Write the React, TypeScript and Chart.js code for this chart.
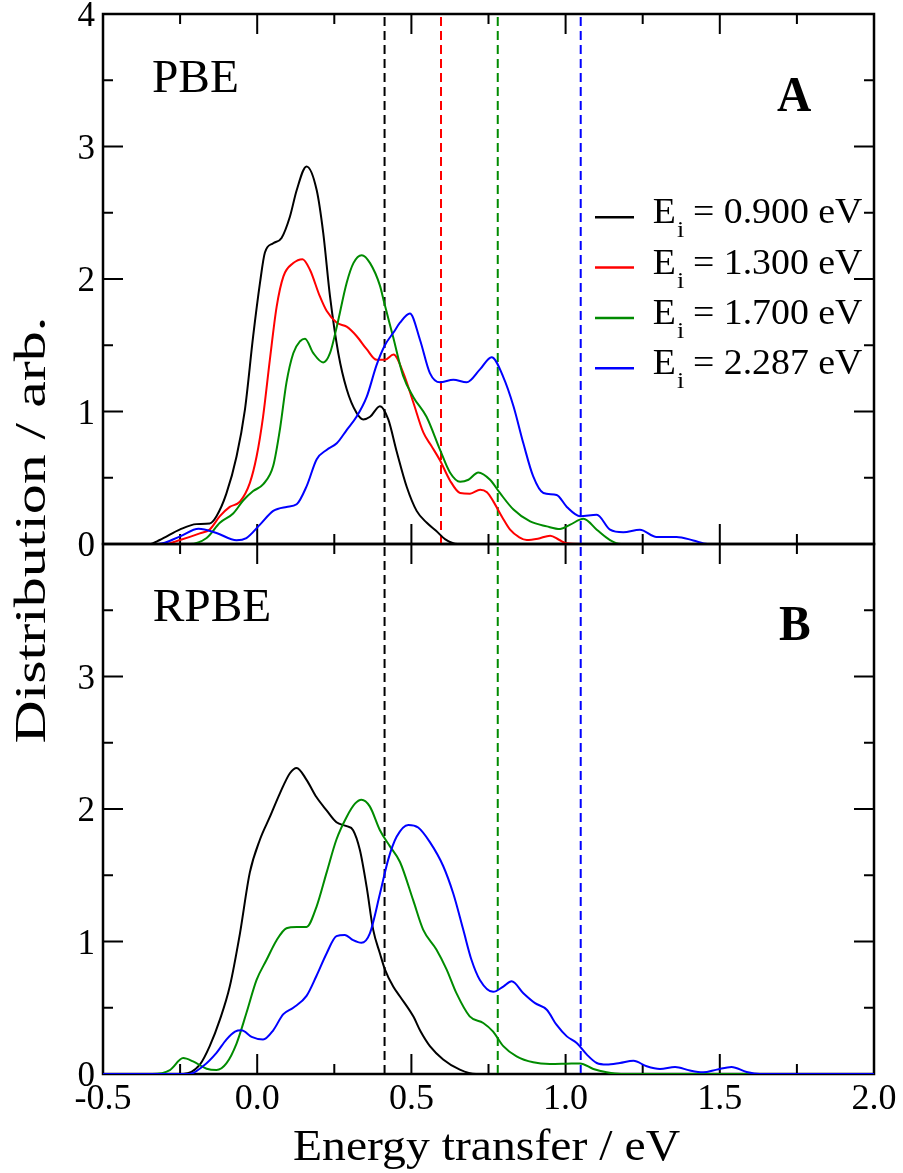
import React, { useEffect, useRef } from 'react';
import { Chart, registerables } from 'chart.js';
Chart.register(...registerables);

const FONT = '"Liberation Serif", "Times New Roman", serif';

// Legend / series metadata
const energies = ['0.900', '1.300', '1.700', '2.287'];
const colors = ['#000000', '#ff0000', '#008b00', '#0000ff'];

// Dashed vertical markers (eV)
const dropPBE = [0.413, 0.596, 0.78, 1.049];
const dropPBEColors = ['#000000', '#ff0000', '#008b00', '#0000ff'];
const dropRPBE = [0.413, 0.78, 1.049];
const dropRPBEColors = ['#000000', '#008b00', '#0000ff'];

// Axis ranges / ticks
const xMin = -0.5, xMax = 2.0, xMajor = 0.5, xMinor = 0.25;
const yMin = 0, yMax = 4, yMajor = 1, yMinor = 0.5;

// ---- Panel A: PBE ----
const pbe090X = [-0.5, -0.35, -0.316, -0.25, -0.197, -0.154, -0.132, -0.1, -0.067, -0.04, -0.013, 0.009, 0.025, 0.052, 0.079, 0.106, 0.128, 0.16, 0.193, 0.214, 0.236, 0.263, 0.29, 0.322, 0.344, 0.366, 0.398, 0.425, 0.452, 0.485, 0.517, 0.55, 0.58, 0.61, 0.65, 2.0];
const pbe090Y = [0, 0, 0.03, 0.11, 0.15, 0.155, 0.21, 0.38, 0.66, 1.01, 1.57, 1.97, 2.2, 2.27, 2.31, 2.47, 2.67, 2.85, 2.67, 2.35, 1.87, 1.44, 1.17, 0.99, 0.94, 0.96, 1.04, 0.94, 0.7, 0.43, 0.25, 0.16, 0.1, 0.035, 0, 0];

const pbe130X = [-0.5, -0.3, -0.25, -0.186, -0.154, -0.121, -0.089, -0.056, -0.024, -0.002, 0.019, 0.041, 0.063, 0.085, 0.117, 0.147, 0.171, 0.203, 0.225, 0.258, 0.29, 0.322, 0.355, 0.387, 0.414, 0.442, 0.474, 0.506, 0.539, 0.565, 0.593, 0.625, 0.658, 0.69, 0.723, 0.745, 0.766, 0.795, 0.82, 0.85, 0.874, 0.91, 0.95, 0.98, 1.004, 1.05, 2.0];
const pbe130Y = [0, 0, 0.03, 0.08, 0.11, 0.21, 0.28, 0.32, 0.46, 0.66, 0.96, 1.39, 1.79, 2.02, 2.12, 2.15, 2.07, 1.87, 1.76, 1.67, 1.64, 1.57, 1.47, 1.39, 1.39, 1.43, 1.29, 1.07, 0.84, 0.74, 0.63, 0.48, 0.385, 0.38, 0.41, 0.39, 0.32, 0.2, 0.108, 0.05, 0.03, 0.04, 0.063, 0.03, 0.005, 0, 0];

const pbe170X = [-0.5, -0.22, -0.164, -0.121, -0.078, -0.045, -0.013, 0.019, 0.052, 0.074, 0.095, 0.117, 0.139, 0.155, 0.182, 0.214, 0.236, 0.258, 0.29, 0.312, 0.339, 0.366, 0.398, 0.412, 0.441, 0.473, 0.506, 0.549, 0.593, 0.625, 0.658, 0.685, 0.717, 0.755, 0.787, 0.831, 0.885, 0.939, 0.982, 1.015, 1.058, 1.101, 1.144, 1.18, 2.0];
const pbe170Y = [0, 0, 0.045, 0.16, 0.23, 0.33, 0.4, 0.45, 0.59, 0.87, 1.22, 1.44, 1.53, 1.55, 1.44, 1.37, 1.44, 1.64, 1.97, 2.12, 2.18, 2.12, 1.95, 1.82, 1.56, 1.27, 1.11, 0.96, 0.71, 0.54, 0.47, 0.485, 0.54, 0.485, 0.385, 0.26, 0.17, 0.133, 0.113, 0.146, 0.19, 0.108, 0.03, 0, 0];

const pbe229X = [-0.5, -0.32, -0.25, -0.19, -0.132, -0.067, -0.035, 0.009, 0.052, 0.095, 0.128, 0.16, 0.193, 0.225, 0.258, 0.29, 0.322, 0.355, 0.387, 0.414, 0.443, 0.463, 0.495, 0.528, 0.56, 0.593, 0.636, 0.679, 0.723, 0.76, 0.798, 0.831, 0.863, 0.895, 0.928, 0.971, 1.004, 1.047, 1.101, 1.144, 1.187, 1.241, 1.295, 1.36, 1.414, 1.46, 2.0];
const pbe229Y = [0, 0, 0.058, 0.115, 0.083, 0.028, 0.045, 0.146, 0.25, 0.28, 0.3, 0.435, 0.64, 0.71, 0.76, 0.86, 0.96, 1.11, 1.35, 1.5, 1.6, 1.67, 1.74, 1.54, 1.29, 1.22, 1.24, 1.22, 1.32, 1.41, 1.26, 1.04, 0.76, 0.51, 0.385, 0.37, 0.28, 0.21, 0.22, 0.108, 0.088, 0.108, 0.053, 0.053, 0.027, 0, 0];

// ---- Panel B: RPBE ----
const rpbe090X = [-0.5, -0.24, -0.186, -0.154, -0.121, -0.089, -0.056, -0.024, 0.009, 0.041, 0.074, 0.106, 0.128, 0.16, 0.192, 0.225, 0.257, 0.29, 0.311, 0.333, 0.355, 0.376, 0.398, 0.414, 0.441, 0.463, 0.506, 0.53, 0.56, 0.603, 0.657, 0.71, 2.0];
const rpbe090Y = [0, 0, 0.07, 0.21, 0.41, 0.66, 1.06, 1.52, 1.77, 1.94, 2.12, 2.27, 2.31, 2.22, 2.09, 1.99, 1.9, 1.87, 1.84, 1.69, 1.41, 1.09, 0.91, 0.79, 0.66, 0.585, 0.435, 0.32, 0.21, 0.11, 0.033, 0, 0];

const rpbe170X = [-0.5, -0.34, -0.283, -0.24, -0.208, -0.164, -0.132, -0.1, -0.067, -0.035, -0.002, 0.03, 0.063, 0.095, 0.128, 0.16, 0.192, 0.225, 0.257, 0.29, 0.317, 0.338, 0.365, 0.398, 0.43, 0.463, 0.506, 0.538, 0.581, 0.614, 0.646, 0.689, 0.733, 0.765, 0.798, 0.841, 0.895, 0.949, 1.003, 1.047, 1.09, 1.133, 1.18, 2.0];
const rpbe170Y = [0, 0, 0.03, 0.12, 0.095, 0.04, 0.03, 0.08, 0.23, 0.46, 0.71, 0.86, 1.01, 1.1, 1.11, 1.11, 1.26, 1.52, 1.77, 1.94, 2.04, 2.07, 2.02, 1.84, 1.72, 1.6, 1.31, 1.09, 0.94, 0.79, 0.61, 0.435, 0.385, 0.32, 0.21, 0.133, 0.088, 0.076, 0.078, 0.08, 0.038, 0.013, 0, 0];

const rpbe229X = [-0.5, -0.22, -0.175, -0.132, -0.1, -0.072, -0.051, -0.018, 0.019, 0.052, 0.084, 0.117, 0.16, 0.192, 0.225, 0.257, 0.284, 0.311, 0.338, 0.365, 0.398, 0.425, 0.452, 0.49, 0.522, 0.56, 0.603, 0.636, 0.668, 0.695, 0.722, 0.765, 0.798, 0.825, 0.863, 0.901, 0.939, 0.971, 1.004, 1.036, 1.069, 1.101, 1.133, 1.176, 1.22, 1.263, 1.306, 1.355, 1.403, 1.446, 1.49, 1.538, 1.587, 1.63, 2.0];
const rpbe229Y = [0, 0, 0.06, 0.16, 0.26, 0.32, 0.33, 0.28, 0.26, 0.33, 0.45, 0.5, 0.59, 0.74, 0.91, 1.04, 1.05, 1.01, 0.99, 1.06, 1.36, 1.62, 1.79, 1.88, 1.86, 1.75, 1.57, 1.36, 1.09, 0.86, 0.71, 0.62, 0.66, 0.7, 0.61, 0.535, 0.485, 0.37, 0.284, 0.234, 0.146, 0.083, 0.071, 0.083, 0.1, 0.058, 0.038, 0.053, 0.026, 0.013, 0.033, 0.053, 0.015, 0, 0];

const W = 903, H = 1173;
const AREA_LEFT = 103, AREA_RIGHT = 874;
const A_TOP = 14, MID = 544, B_BOTTOM = 1074;

function pts(xs: number[], ys: number[]) {
  return xs.map((x, i) => ({ x, y: ys[i] }));
}

function curve(xs: number[], ys: number[], color: string, order: number) {
  return {
    data: pts(xs, ys),
    borderColor: color,
    borderWidth: 2,
    pointRadius: 0,
    fill: false,
    cubicInterpolationMode: 'monotone' as const,
    order,
  };
}

function dropLine(x: number, color: string) {
  return {
    data: [{ x, y: yMin }, { x, y: yMax }],
    borderColor: color,
    borderWidth: 2,
    borderDash: [9, 5],
    pointRadius: 0,
    fill: false,
    order: 10,
  };
}

function drawText(ctx: CanvasRenderingContext2D, text: string, x: number, y: number, font: string, sx: number, align: CanvasTextAlign = 'left', rot = 0) {
  ctx.save();
  ctx.translate(x, y);
  if (rot) ctx.rotate(rot);
  ctx.scale(sx, 1);
  ctx.font = font;
  ctx.textAlign = align;
  ctx.textBaseline = 'alphabetic';
  ctx.fillStyle = '#000';
  ctx.fillText(text, 0, 0);
  ctx.restore();
}

const framePlugin = {
  id: 'frame',
  beforeDatasetsDraw(chart: any) {
    const { ctx, chartArea: a, scales } = chart;
    const xs = scales.x, ys = scales.y;
    ctx.save();
    ctx.strokeStyle = '#000';
    ctx.lineWidth = 2;
    ctx.beginPath();
    const nx = Math.round((xMax - xMin) / xMinor);
    for (let i = 0; i <= nx; i++) {
      const v = xMin + i * xMinor;
      const major = Math.abs(v / xMajor - Math.round(v / xMajor)) < 1e-6;
      const len = major ? 20 : 10;
      const px = xs.getPixelForValue(v);
      ctx.moveTo(px, a.bottom); ctx.lineTo(px, a.bottom - len);
      ctx.moveTo(px, a.top); ctx.lineTo(px, a.top + len);
    }
    const ny = Math.round((yMax - yMin) / yMinor);
    for (let i = 0; i <= ny; i++) {
      const v = yMin + i * yMinor;
      const major = Math.abs(v / yMajor - Math.round(v / yMajor)) < 1e-6;
      const len = major ? 20 : 10;
      const py = ys.getPixelForValue(v);
      ctx.moveTo(a.left, py); ctx.lineTo(a.left + len, py);
      ctx.moveTo(a.right, py); ctx.lineTo(a.right - len, py);
    }
    ctx.stroke();
    ctx.lineWidth = 2.5;
    ctx.strokeRect(a.left, a.top, a.right - a.left, a.bottom - a.top);
    ctx.restore();
  },
};

function yAxis(hideTop: boolean) {
  return {
    type: 'linear' as const,
    min: yMin,
    max: yMax,
    grid: { display: false, drawTicks: false },
    border: { display: false },
    ticks: {
      stepSize: yMajor,
      color: '#000',
      padding: 8,
      labelOffset: 3,
      font: { family: FONT, size: 35 },
      callback: (v: any) => (hideTop && v === yMax ? '' : String(v)),
    },
    afterFit: (s: any) => {
      s.width = AREA_LEFT;
      s.paddingTop = 0; s.paddingBottom = 0;
    },
  };
}

export default function App() {
  const refA = useRef<HTMLCanvasElement>(null);
  const refB = useRef<HTMLCanvasElement>(null);

  useEffect(() => {
    const annA = {
      id: 'annA',
      afterDraw(chart: any) {
        const ctx = chart.ctx as CanvasRenderingContext2D;
        drawText(ctx, 'PBE', 152, 92, `46px ${FONT}`, 1.03);
        drawText(ctx, 'A', 777, 110.7, `bold 50px ${FONT}`, 0.95);
        energies.forEach((e, i) => {
          const base = 223.3 + i * 50.3;
          const ly = base - 6;
          ctx.save();
          ctx.strokeStyle = colors[i];
          ctx.lineWidth = 2.5;
          ctx.beginPath();
          ctx.moveTo(595, ly); ctx.lineTo(634, ly);
          ctx.stroke();
          ctx.restore();
          ctx.save();
          ctx.translate(652.7, base);
          ctx.scale(1.08, 1);
          ctx.fillStyle = '#000';
          ctx.textBaseline = 'alphabetic';
          ctx.font = `35px ${FONT}`;
          ctx.fillText('E', 0, 0);
          ctx.font = `24px ${FONT}`;
          ctx.fillText('i', 22.5, 14);
          ctx.font = `35px ${FONT}`;
          ctx.fillText(`= ${e} eV`, 37.3, 0);
          ctx.restore();
        });
      },
    };
    const annB = {
      id: 'annB',
      afterDraw(chart: any) {
        const ctx = chart.ctx as CanvasRenderingContext2D;
        drawText(ctx, 'RPBE', 152.7, 620.7, `46px ${FONT}`, 1.03);
        drawText(ctx, 'B', 779, 640.4, `bold 50px ${FONT}`, 0.95);
        drawText(ctx, 'Energy transfer / eV', (AREA_LEFT + AREA_RIGHT) / 2 - 2, 1160, `45px ${FONT}`, 1.06, 'center');
        drawText(ctx, 'Distribution / arb.', 45, 530, `44px ${FONT}`, 1.36, 'center', -Math.PI / 2);
      },
    };

    const chartA = new Chart(refA.current!, {
      type: 'line',
      data: {
        datasets: [
          curve(pbe090X, pbe090Y, colors[0], 4),
          curve(pbe130X, pbe130Y, colors[1], 3),
          curve(pbe170X, pbe170Y, colors[2], 2),
          curve(pbe229X, pbe229Y, colors[3], 1),
          ...dropPBE.map((x, i) => dropLine(x, dropPBEColors[i])),
        ] as any,
      },
      options: {
        responsive: false,
        animation: false,
        events: [],
        layout: { padding: { top: A_TOP, left: 0, right: W - AREA_RIGHT, bottom: H - MID } },
        plugins: { legend: { display: false }, tooltip: { enabled: false }, title: { display: false } },
        scales: {
          x: { type: 'linear', min: xMin, max: xMax, display: false },
          y: yAxis(false) as any,
        },
      },
      plugins: [framePlugin, annA],
    });

    const chartB = new Chart(refB.current!, {
      type: 'line',
      data: {
        datasets: [
          curve(rpbe090X, rpbe090Y, colors[0], 4),
          curve(rpbe170X, rpbe170Y, colors[2], 2),
          curve(rpbe229X, rpbe229Y, colors[3], 1),
          ...dropRPBE.map((x, i) => dropLine(x, dropRPBEColors[i])),
        ] as any,
      },
      options: {
        responsive: false,
        animation: false,
        events: [],
        layout: { padding: { top: MID, left: 0, right: W - AREA_RIGHT, bottom: 0 } },
        plugins: { legend: { display: false }, tooltip: { enabled: false }, title: { display: false } },
        scales: {
          x: {
            type: 'linear',
            min: xMin,
            max: xMax,
            grid: { display: false, drawTicks: false },
            border: { display: false },
            ticks: {
              stepSize: xMajor,
              color: '#000',
              padding: 4,
              maxRotation: 0,
              autoSkip: false,
              font: { family: FONT, size: 36 },
              callback: (v: any) => Number(v).toFixed(1),
            },
            afterFit: (s: any) => {
              s.height = H - B_BOTTOM;
              s.paddingLeft = 0; s.paddingRight = 0;
            },
          } as any,
          y: yAxis(true) as any,
        },
      },
      plugins: [framePlugin, annB],
    });

    return () => {
      chartA.destroy();
      chartB.destroy();
    };
  }, []);

  const cs: React.CSSProperties = { position: 'absolute', left: 0, top: 0, width: W, height: H };
  return (
    <div style={{ position: 'absolute', left: 0, top: 0, width: W, height: H, background: '#fff' }}>
      <canvas ref={refA} width={W} height={H} style={cs} />
      <canvas ref={refB} width={W} height={H} style={cs} />
    </div>
  );
}
